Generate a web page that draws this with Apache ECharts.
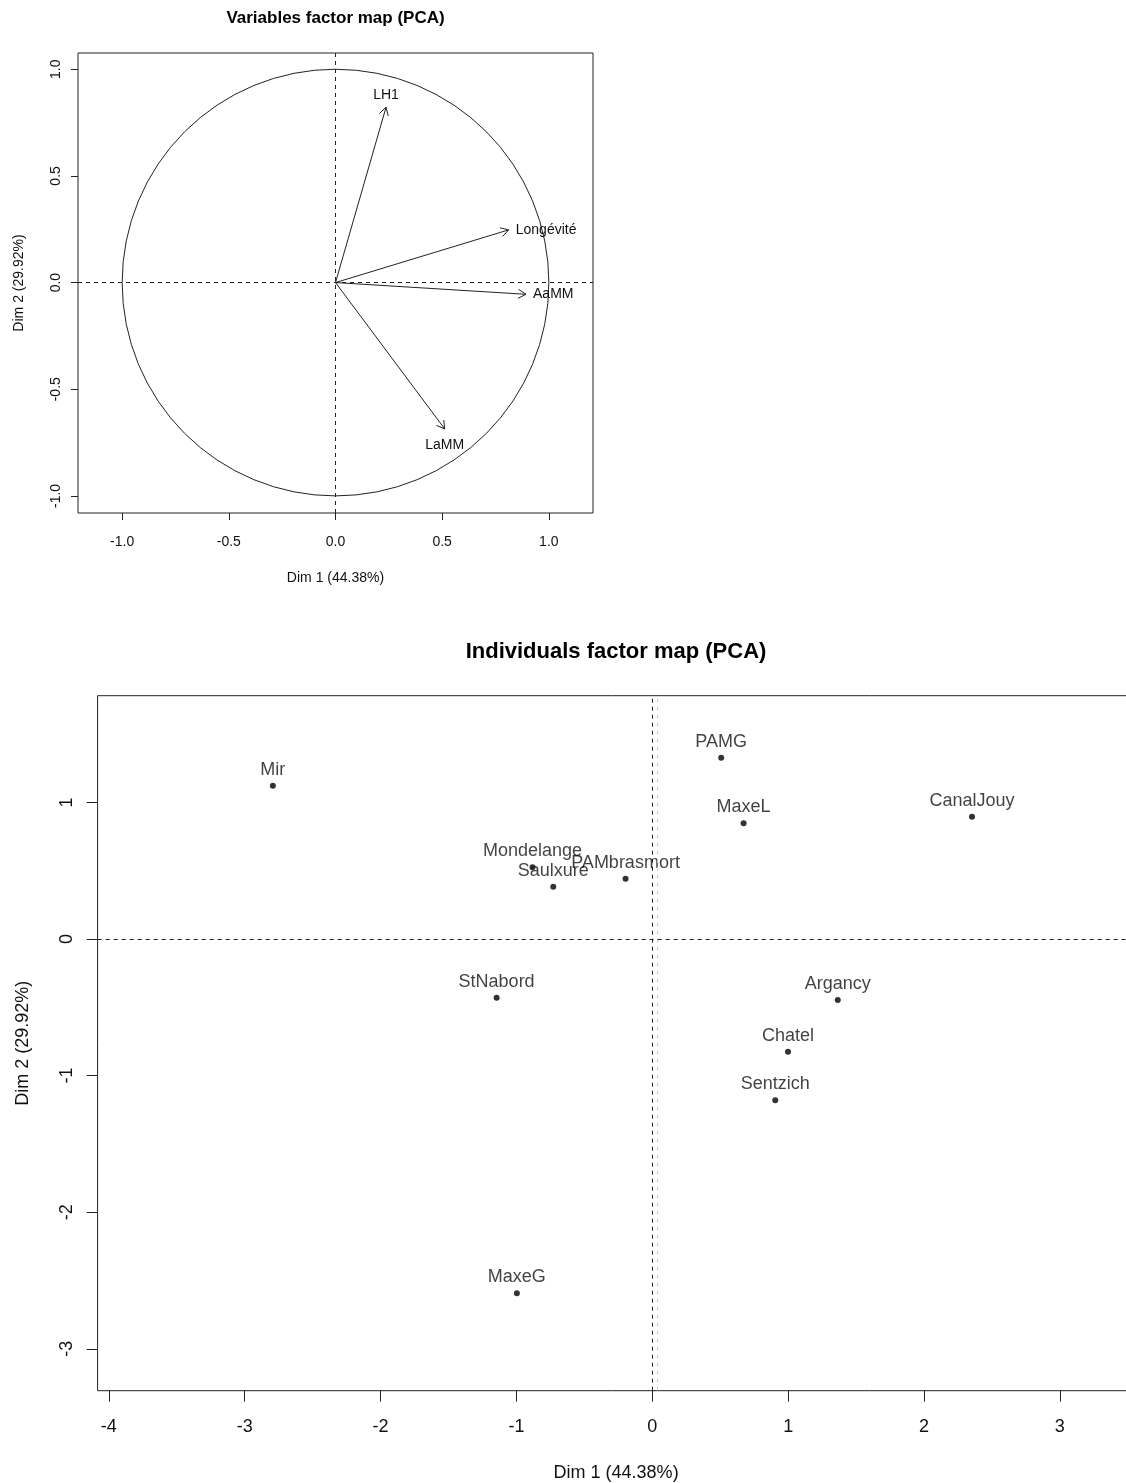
<!DOCTYPE html>
<html><head><meta charset="utf-8">
<script src="https://cdn.jsdelivr.net/npm/echarts@6/dist/echarts.min.js"></script>
<style>html,body{margin:0;padding:0;background:#fff}#c{width:1126px;height:1483px}</style>
</head><body><div id="c"></div>
<script>
// ---- Variables factor map ----
const varNames = ['LH1', 'Longévité', 'AaMM', 'LaMM'];
const varDim1 = [0.237, 0.812, 0.893, 0.512];
const varDim2 = [0.822, 0.247, -0.055, -0.686];
const varTicks = [-1, -0.5, 0, 0.5, 1];

// ---- Individuals factor map ----
const indNames = ['Mir', 'PAMG', 'MaxeL', 'CanalJouy', 'Mondelange', 'Saulxure', 'PAMbrasmort', 'StNabord', 'Argancy', 'Chatel', 'Sentzich', 'MaxeG'];
const indDim1 = [-2.793, 0.507, 0.672, 2.353, -0.882, -0.729, -0.197, -1.146, 1.365, 0.999, 0.905, -0.997];
const indDim2 = [1.122, 1.327, 0.847, 0.895, 0.525, 0.383, 0.441, -0.430, -0.447, -0.825, -1.181, -2.594];
const indXTicks = [-4, -3, -2, -1, 0, 1, 2, 3];
const indYTicks = [-3, -2, -1, 0, 1];

const FONT = '"Liberation Sans", Arial, Helvetica, sans-serif';
const INK = '#222';
const TXT = '#111';

const chart = echarts.init(document.getElementById('c'), null, {renderer: 'canvas'});

function renderCircle(params, api) {
  const c = api.coord([api.value(0), api.value(1)]);
  const r = api.size([api.value(2), 0])[0];
  return {type: 'circle', shape: {cx: c[0], cy: c[1], r: r}, style: {fill: null, stroke: INK, lineWidth: 1}, silent: true};
}

function renderArrow(params, api) {
  const x = api.value(0), y = api.value(1);
  const p0 = api.coord([0, 0]), p1 = api.coord([x, y]);
  const ang = Math.atan2(p1[1] - p0[1], p1[0] - p0[0]);
  const L = 9, a = Math.PI / 6;
  const h1 = [p1[0] - L * Math.cos(ang - a), p1[1] - L * Math.sin(ang - a)];
  const h2 = [p1[0] - L * Math.cos(ang + a), p1[1] - L * Math.sin(ang + a)];
  let tx, ty, align, valign;
  if (Math.abs(y) > Math.abs(x)) {
    tx = p1[0]; align = 'center';
    if (y > 0) { ty = p1[1] - 5; valign = 'bottom'; } else { ty = p1[1] + 9; valign = 'top'; }
  } else {
    tx = p1[0] + 7; ty = p1[1]; align = 'left'; valign = 'middle';
  }
  return {type: 'group', children: [
    {type: 'line', shape: {x1: p0[0], y1: p0[1], x2: p1[0], y2: p1[1]}, style: {stroke: INK, lineWidth: 1}},
    {type: 'polyline', shape: {points: [h1, p1, h2]}, style: {stroke: INK, fill: null, lineWidth: 1}},
    {type: 'text', x: tx, y: ty, style: {text: varNames[params.dataIndex], align: align, verticalAlign: valign, fontSize: 14, fontFamily: FONT, fill: TXT}}
  ]};
}

const dashed = {type: [4, 4], color: INK, width: 1};

const option = {
  backgroundColor: '#fff',
  animation: false,
  textStyle: {fontFamily: FONT, color: TXT},
  title: [
    {text: 'Variables factor map (PCA)', left: 335.5, top: 10, textAlign: 'center', padding: 0,
     textStyle: {fontSize: 17, fontWeight: 'bold', color: '#000', fontFamily: FONT}},
    {text: 'Individuals factor map (PCA)', left: 616, top: 641, textAlign: 'center', padding: 0,
     textStyle: {fontSize: 22, fontWeight: 'bold', color: '#000', fontFamily: FONT}}
  ],
  grid: [
    {left: 78, top: 53, width: 515, height: 460, show: true, borderColor: INK, borderWidth: 1, backgroundColor: 'transparent', outerBoundsMode: 'none', containLabel: false},
    {left: 97.6, top: 695.7, width: 1037, height: 695, show: true, borderColor: INK, borderWidth: 1, backgroundColor: 'transparent', outerBoundsMode: 'none', containLabel: false}
  ],
  xAxis: [
    {type: 'value', gridIndex: 0, min: -1.207, max: 1.207,
     axisLine: {show: false, onZero: false}, splitLine: {show: false},
     axisTick: {show: true, length: 7, customValues: varTicks, lineStyle: {color: INK}},
     axisLabel: {customValues: varTicks, formatter: v => v.toFixed(1), margin: 22, fontSize: 14, color: TXT, fontFamily: FONT},
     name: 'Dim 1 (44.38%)', nameLocation: 'middle', nameGap: 58, nameTextStyle: {fontSize: 14, color: TXT, fontFamily: FONT}},
    {type: 'value', gridIndex: 1, min: -4.083, max: 3.55,
     axisLine: {show: false, onZero: false}, splitLine: {show: false},
     axisTick: {show: true, length: 11, customValues: indXTicks, lineStyle: {color: INK}},
     axisLabel: {customValues: indXTicks, formatter: v => String(v), margin: 27, fontSize: 18, color: TXT, fontFamily: FONT},
     name: 'Dim 1 (44.38%)', nameLocation: 'middle', nameGap: 73, nameTextStyle: {fontSize: 18, color: TXT, fontFamily: FONT}}
  ],
  yAxis: [
    {type: 'value', gridIndex: 0, min: -1.08, max: 1.076,
     axisLine: {show: false, onZero: false}, splitLine: {show: false},
     axisTick: {show: true, length: 7, customValues: varTicks, lineStyle: {color: INK}},
     axisLabel: {customValues: varTicks, formatter: v => v.toFixed(1), rotate: 90, margin: 15, fontSize: 14, color: TXT, fontFamily: FONT},
     name: 'Dim 2 (29.92%)', nameLocation: 'middle', nameGap: 52, nameTextStyle: {fontSize: 14, color: TXT, fontFamily: FONT}},
    {type: 'value', gridIndex: 1, min: -3.307, max: 1.781,
     axisLine: {show: false, onZero: false}, splitLine: {show: false},
     axisTick: {show: true, length: 11, customValues: indYTicks, lineStyle: {color: INK}},
     axisLabel: {customValues: indYTicks, formatter: v => String(v), rotate: 90, margin: 22, fontSize: 18, color: TXT, fontFamily: FONT},
     name: 'Dim 2 (29.92%)', nameLocation: 'middle', nameGap: 66, nameTextStyle: {fontSize: 18, color: TXT, fontFamily: FONT}}
  ],
  series: [
    {type: 'custom', name: 'circle', xAxisIndex: 0, yAxisIndex: 0, data: [[0, 0, 1]], renderItem: renderCircle, silent: true, clip: false},
    {type: 'custom', name: 'variables', xAxisIndex: 0, yAxisIndex: 0,
     data: varNames.map((n, i) => ({name: n, value: [varDim1[i], varDim2[i]]})),
     renderItem: renderArrow, silent: true,
     markLine: {silent: true, symbol: ['none', 'none'], label: {show: false}, lineStyle: dashed,
       data: [{xAxis: 0}, {yAxis: 0}]}},
    {type: 'scatter', name: 'individuals', xAxisIndex: 1, yAxisIndex: 1,
     symbol: 'circle', symbolSize: 6, itemStyle: {color: '#000'},
     data: indNames.map((n, i) => ({name: n, value: [indDim1[i], indDim2[i]]})),
     label: {show: true, formatter: '{b}', position: 'top', distance: 4, fontSize: 18, color: TXT, fontFamily: FONT},
     emphasis: {disabled: true}, silent: true,
     markLine: {silent: true, symbol: ['none', 'none'], label: {show: false}, lineStyle: dashed,
       data: [{xAxis: 0.045, lineStyle: {color: '#c8c8c8', type: [4, 4], width: 1}}, {xAxis: 0}, {yAxis: 0}]}}
  ]
};
chart.setOption(option);
</script>
</body></html>
